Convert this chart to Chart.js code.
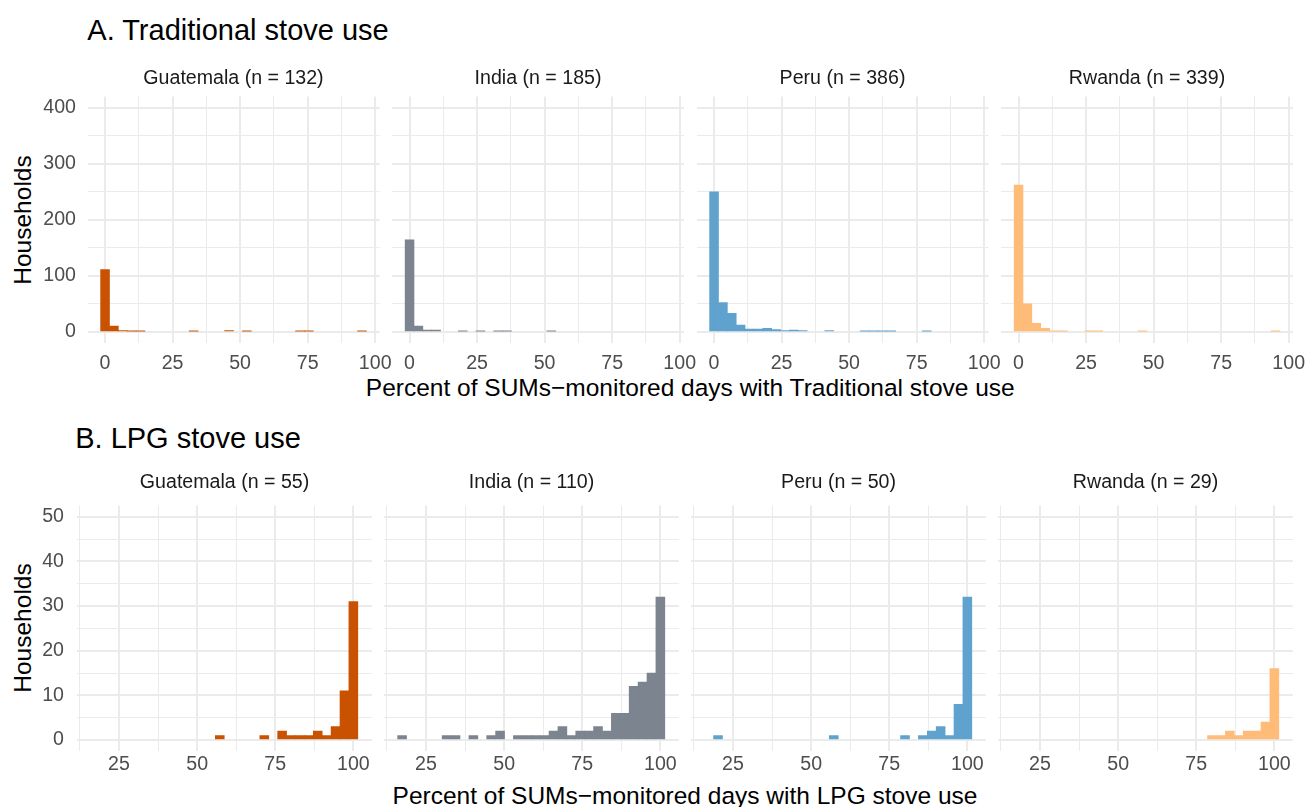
<!DOCTYPE html>
<html>
<head>
<meta charset="utf-8">
<script src="https://cdn.jsdelivr.net/npm/chart.js@4.4.1/dist/chart.umd.min.js"></script>
<style>
  body { margin:0; width:1307px; height:807px; background:#fff; position:relative; overflow:hidden;
         font-family:"Liberation Sans", Arial, sans-serif; }
  .txt { position:absolute; white-space:nowrap; line-height:1; color:#000; }
  canvas { position:absolute; }
</style>
</head>
<body>
<div class="txt" style="left:87.3px; top:15.5px; font-size:29px;">A. Traditional stove use</div>
<div class="txt" style="left:75.2px; top:423.8px; font-size:29px;">B. LPG stove use</div>
<div class="txt" style="left:690.3px; top:376.3px; font-size:24.5px; transform:translateX(-50%);">Percent of SUMs−monitored days with Traditional stove use</div>
<div class="txt" style="left:685px; top:784.3px; font-size:24.5px; transform:translateX(-50%);">Percent of SUMs−monitored days with LPG stove use</div>
<div class="txt" style="left:23.4px; top:219.8px; font-size:24.5px; transform:translate(-50%,-50%) rotate(-90deg);">Households</div>
<div class="txt" style="left:23.4px; top:628.4px; font-size:24.5px; transform:translate(-50%,-50%) rotate(-90deg);">Households</div>
<script>
// histogram bins (centres)
var tradBinStart = 0;
var tradBinWidth = 3.28;
var lpgBinStart = 17.35;
var lpgBinWidth = 2.85;

var countries = ["Guatemala", "India", "Peru", "Rwanda"];
var colors = ["#c85200", "#7b848f", "#5fa2ce", "#ffbc79"];
var tradN = [132, 185, 386, 339];
var lpgN = [55, 110, 50, 29];

// A. traditional stove use, households per bin
var tradGuatemala = [111,10,2,1,1,0,0,0,0,0,1,0,0,0,2,0,1,0,0,0,0,0,1,1,0,0,0,0,0,1];
var tradIndia     = [164,10,3,3,0,0,1,0,1,0,1,1,0,0,0,0,1,0,0,0,0,0,0,0,0,0,0,0,0,0];
var tradPeru      = [250,52,33,12,5,5,6,4,2,3,2,0,0,2,0,0,0,1,1,1,1,0,0,0,1,0,0,0,0,0];
var tradRwanda    = [262,50,15,6,1,1,0,0,1,1,0,0,0,0,1,0,0,0,0,0,0,0,0,0,0,0,0,0,0,1];

// B. LPG stove use, households per bin
var lpgGuatemala = [0,0,0,0,0,0,0,0,0,0,0,0,0,0,1,0,0,0,0,1,0,2,1,1,1,2,1,3,11,31];
var lpgIndia     = [1,0,0,0,0,1,1,0,1,0,1,2,0,1,1,1,1,2,3,1,2,2,3,2,6,6,12,13,15,32];
var lpgPeru      = [0,1,0,0,0,0,0,0,0,0,0,0,0,0,1,0,0,0,0,0,0,0,1,0,1,2,3,1,8,32];
var lpgRwanda    = [0,0,0,0,0,0,0,0,0,0,0,0,0,0,0,0,0,0,0,0,0,0,1,1,2,1,2,2,4,16];

// axis breaks
var xGridTrad = [0,12.5,25,37.5,50,62.5,75,87.5,100];
var xGridLpg  = [12.5,25,37.5,50,62.5,75,87.5,100];
var xLabels   = [0,25,50,75,100];
var yGridTrad = [0,50,100,150,200,250,300,350,400];
var yLabelsTrad = [0,100,200,300,400];
var yGridLpg  = [0,5,10,15,20,25,30,35,40,45,50];
var yLabelsLpg = [0,10,20,30,40,50];

Chart.defaults.font.family = '"Liberation Sans", Arial, sans-serif';
var tickSize = 19.6;
var lh = tickSize * 1.2;

var rows = [
  { counts: [tradGuatemala, tradIndia, tradPeru, tradRwanda], n: tradN,
    binStart: tradBinStart, binWidth: tradBinWidth,
    x0s: [87.5, 392, 696.5, 1001], w: 292, y0: 96.5, y1: 343,
    stripMid: 78.5, xTickMid: 363.6, yLabelRight: 76,
    xMin: -6.5, xMax: 101.6, yMin: -20, yMax: 420,
    xGrid: xGridTrad, yGrid: yGridTrad, yLabels: yLabelsTrad },
  { counts: [lpgGuatemala, lpgIndia, lpgPeru, lpgRwanda], n: lpgN,
    binStart: lpgBinStart, binWidth: lpgBinWidth,
    x0s: [77.3, 384.3, 691.3, 998.3], w: 294.5, y0: 505.5, y1: 751.2,
    stripMid: 482.6, xTickMid: 764.6, yLabelRight: 64,
    xMin: 11.65, xMax: 105.9, yMin: -2.5, yMax: 52.5,
    xGrid: xGridLpg, yGrid: yGridLpg, yLabels: yLabelsLpg }
];

function makePanel(row, i) {
  var x0 = row.x0s[i], x1 = x0 + row.w;
  var first = i === 0;
  var cl = first ? 0 : Math.floor(x0) - 24;
  var cr = Math.min(1307, Math.ceil(x1) + 24);
  var padL = first ? 0 : x0 - cl;
  var padR = cr - x1;
  var ct = Math.floor(row.stripMid - lh / 2 - 4);
  var padTop = row.stripMid - ct - lh / 2;
  var padBottom = row.y0 - ct - padTop - lh;
  var ch = Math.ceil(row.y1 - ct + 36);
  var xH = ch - (row.y1 - ct);
  var cw = cr - cl;

  var c = document.createElement("canvas");
  c.width = cw; c.height = ch;
  c.style.left = cl + "px"; c.style.top = ct + "px";
  c.style.width = cw + "px"; c.style.height = ch + "px";
  document.body.appendChild(c);

  var data = row.counts[i].map(function (v, k) {
    return { x: row.binStart + k * row.binWidth, y: v };
  });

  new Chart(c.getContext("2d"), {
    type: "bar",
    data: {
      datasets: [{
        data: data,
        // empty bins stay invisible
        backgroundColor: function (ctx) {
          return ctx.raw && ctx.raw.y > 0 ? colors[i] : "rgba(0,0,0,0)";
        },
        borderWidth: 0,
        barPercentage: 1,
        categoryPercentage: 1
      }]
    },
    options: {
      responsive: false,
      animation: false,
      layout: { padding: { left: padL, right: padR, top: 0, bottom: 0 } },
      plugins: {
        legend: { display: false },
        tooltip: { enabled: false },
        title: {
          display: true,
          fullSize: false,
          text: countries[i] + " (n = " + row.n[i] + ")",
          color: "#1a1a1a",
          font: { size: tickSize, weight: "normal", lineHeight: 1.2 },
          padding: { top: padTop, bottom: padBottom }
        }
      },
      scales: {
        x: {
          type: "linear",
          min: row.xMin, max: row.xMax,
          offset: false,
          border: { display: false },
          grid: {
            color: "#ebebeb",
            drawTicks: false,
            offset: false,
            lineWidth: function (ctx) {
              return ctx.tick && xLabels.indexOf(ctx.tick.value) >= 0 ? 2 : 1;
            }
          },
          afterBuildTicks: function (s) {
            s.ticks = row.xGrid.map(function (v) { return { value: v }; });
          },
          ticks: {
            autoSkip: false, maxRotation: 0, minRotation: 0,
            color: "#4d4d4d",
            font: { size: tickSize, lineHeight: 1.2 },
            padding: row.xTickMid - row.y1 - lh / 2,
            callback: function (v) { return xLabels.indexOf(v) >= 0 ? String(v) : ""; }
          },
          afterFit: function (s) {
            s.height = xH; s.paddingLeft = 0; s.paddingRight = 0;
          }
        },
        y: {
          min: row.yMin, max: row.yMax,
          border: { display: false },
          grid: {
            color: "#ebebeb",
            drawTicks: false,
            lineWidth: function (ctx) {
              return ctx.tick && row.yLabels.indexOf(ctx.tick.value) >= 0 ? 2 : 1;
            }
          },
          afterBuildTicks: function (s) {
            s.ticks = row.yGrid.map(function (v) { return { value: v }; });
          },
          ticks: {
            display: first,
            autoSkip: false,
            color: "#4d4d4d",
            font: { size: tickSize, lineHeight: 1.2 },
            padding: row.x0s[0] - row.yLabelRight,
            callback: function (v) { return row.yLabels.indexOf(v) >= 0 ? String(v) : ""; }
          },
          afterFit: function (s) {
            s.width = first ? x0 : 0; s.paddingTop = 0; s.paddingBottom = 0;
          }
        }
      }
    }
  });
}

rows.forEach(function (row) {
  for (var i = 0; i < 4; i++) makePanel(row, i);
});
</script>
</body>
</html>
